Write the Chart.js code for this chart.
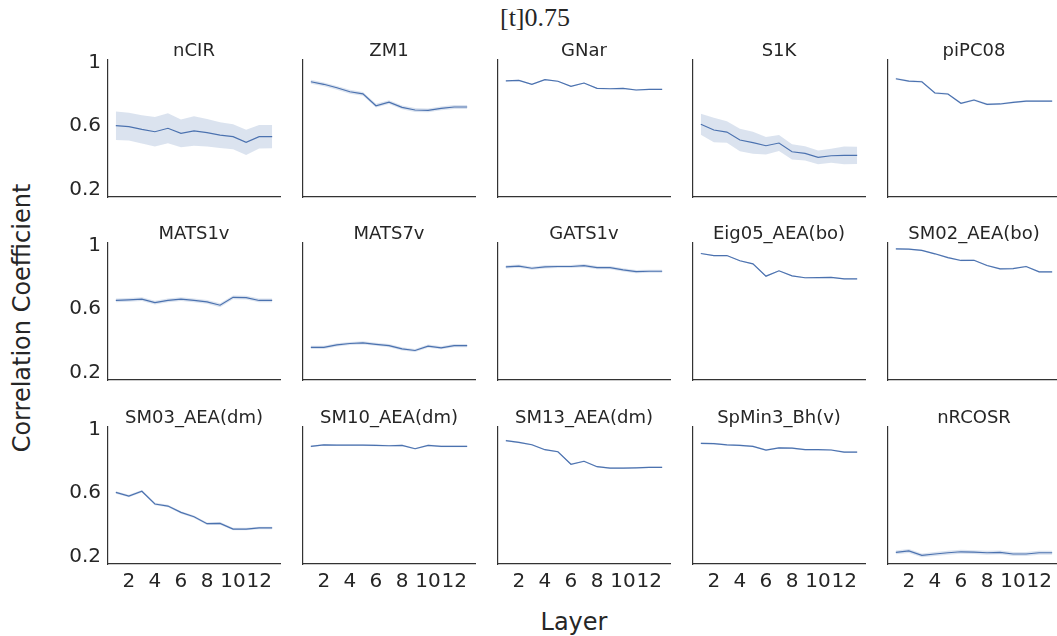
<!DOCTYPE html>
<html>
<head>
<meta charset="utf-8">
<script src="https://cdn.jsdelivr.net/npm/chart.js@4/dist/chart.umd.min.js"></script>
<style>
  html, body { margin: 0; padding: 0; background: #fff; }
  body { width: 1057px; height: 636px; position: relative; overflow: hidden; font-family: "DejaVu Sans", sans-serif; color: #262626; }
  canvas { position: absolute; }
  .label { position: absolute; white-space: nowrap; }
  #suptitle { font-family: "Liberation Serif", serif; font-size: 26px; left: 535px; top: 18px; transform: translate(-50%, -50%); }
  #xlabel { font-size: 24px; left: 574px; top: 622px; transform: translate(-50%, -50%); }
  #ylabel { font-size: 24px; left: 22px; top: 318px; transform: translate(-50%, -50%) rotate(-90deg); }
</style>
</head>
<body>
<div class="label" id="suptitle">[t]0.75</div>
<div class="label" id="ylabel">Correlation Coefficient</div>
<div class="label" id="xlabel">Layer</div>

<script>
// layers and tick labels
const layers = [1, 2, 3, 4, 5, 6, 7, 8, 9, 10, 11, 12, 13];
const xTicks = [2, 4, 6, 8, 10, 12];
const xTickLabels = ["2", "4", "6", "8", "10", "12"];
const yTicks = [0.2, 0.6, 1];
const yTickLabels = ["0.2", "0.6", "1"];

const titles = ["nCIR", "ZM1", "GNar", "S1K", "piPC08",
                "MATS1v", "MATS7v", "GATS1v", "Eig05_AEA(bo)", "SM02_AEA(bo)",
                "SM03_AEA(dm)", "SM10_AEA(dm)", "SM13_AEA(dm)", "SpMin3_Bh(v)", "nRCOSR"];

// mean correlation per layer, and half width of the confidence band
const nCIR     = [0.602, 0.596, 0.579, 0.564, 0.586, 0.554, 0.569, 0.558, 0.543, 0.533, 0.497, 0.533, 0.533];
const nCIR_ci  = [0.090, 0.087, 0.089, 0.093, 0.095, 0.087, 0.093, 0.087, 0.081, 0.079, 0.079, 0.074, 0.073];
const ZM1      = [0.879, 0.863, 0.841, 0.816, 0.803, 0.728, 0.751, 0.718, 0.701, 0.699, 0.711, 0.720, 0.720];
const ZM1_ci   = [0.012, 0.012, 0.012, 0.012, 0.012, 0.012, 0.012, 0.012, 0.012, 0.012, 0.012, 0.012, 0.012];
const GNar     = [0.885, 0.888, 0.863, 0.892, 0.882, 0.850, 0.871, 0.837, 0.835, 0.837, 0.827, 0.831, 0.831];
const GNar_ci  = [0.004, 0.004, 0.004, 0.004, 0.004, 0.004, 0.004, 0.004, 0.004, 0.004, 0.004, 0.004, 0.004];
const S1K      = [0.611, 0.575, 0.562, 0.512, 0.495, 0.476, 0.493, 0.438, 0.428, 0.403, 0.413, 0.415, 0.415];
const S1K_ci   = [0.066, 0.077, 0.068, 0.071, 0.069, 0.055, 0.050, 0.048, 0.045, 0.043, 0.044, 0.056, 0.054];
const piPC08   = [0.898, 0.883, 0.879, 0.808, 0.802, 0.743, 0.764, 0.737, 0.739, 0.749, 0.757, 0.757, 0.757];
const piPC08_ci = [0.006, 0.006, 0.006, 0.006, 0.006, 0.006, 0.006, 0.006, 0.006, 0.006, 0.006, 0.006, 0.006];
const MATS1v   = [0.654, 0.658, 0.662, 0.641, 0.654, 0.662, 0.654, 0.645, 0.624, 0.674, 0.672, 0.654, 0.654];
const MATS1v_ci = [0.012, 0.012, 0.012, 0.012, 0.012, 0.012, 0.012, 0.012, 0.012, 0.012, 0.012, 0.012, 0.012];
const MATS7v   = [0.359, 0.359, 0.374, 0.383, 0.387, 0.378, 0.370, 0.349, 0.339, 0.366, 0.356, 0.370, 0.370];
const MATS7v_ci = [0.010, 0.010, 0.010, 0.010, 0.010, 0.010, 0.010, 0.010, 0.010, 0.010, 0.010, 0.010, 0.010];
const GATS1v   = [0.866, 0.870, 0.857, 0.866, 0.868, 0.868, 0.874, 0.861, 0.861, 0.847, 0.836, 0.838, 0.838];
const GATS1v_ci = [0.010, 0.010, 0.010, 0.010, 0.010, 0.010, 0.010, 0.010, 0.010, 0.010, 0.010, 0.010, 0.010];
const Eig05    = [0.950, 0.937, 0.937, 0.904, 0.885, 0.807, 0.841, 0.809, 0.797, 0.798, 0.800, 0.790, 0.790];
const Eig05_ci = [0.004, 0.004, 0.004, 0.004, 0.004, 0.004, 0.004, 0.004, 0.004, 0.004, 0.004, 0.004, 0.004];
const SM02     = [0.979, 0.977, 0.969, 0.948, 0.924, 0.906, 0.907, 0.874, 0.853, 0.855, 0.868, 0.834, 0.834];
const SM02_ci  = [0.005, 0.005, 0.005, 0.005, 0.005, 0.005, 0.005, 0.005, 0.005, 0.005, 0.005, 0.005, 0.005];
const SM03     = [0.604, 0.581, 0.611, 0.531, 0.518, 0.478, 0.451, 0.407, 0.409, 0.373, 0.373, 0.380, 0.380];
const SM03_ci  = [0.008, 0.008, 0.008, 0.008, 0.008, 0.008, 0.008, 0.008, 0.008, 0.008, 0.008, 0.008, 0.008];
const SM10     = [0.894, 0.904, 0.902, 0.902, 0.902, 0.900, 0.898, 0.900, 0.879, 0.900, 0.894, 0.894, 0.894];
const SM10_ci  = [0.005, 0.005, 0.005, 0.005, 0.005, 0.005, 0.005, 0.005, 0.005, 0.005, 0.005, 0.005, 0.005];
const SM13     = [0.930, 0.919, 0.904, 0.873, 0.860, 0.781, 0.800, 0.766, 0.757, 0.757, 0.759, 0.762, 0.762];
const SM13_ci  = [0.005, 0.005, 0.005, 0.005, 0.005, 0.005, 0.005, 0.005, 0.005, 0.005, 0.005, 0.005, 0.005];
const SpMin3   = [0.913, 0.911, 0.904, 0.900, 0.894, 0.871, 0.885, 0.883, 0.873, 0.873, 0.871, 0.858, 0.858];
const SpMin3_ci = [0.005, 0.005, 0.005, 0.005, 0.005, 0.005, 0.005, 0.005, 0.005, 0.005, 0.005, 0.005, 0.005];
const nRCOSR   = [0.226, 0.235, 0.207, 0.216, 0.224, 0.230, 0.228, 0.224, 0.226, 0.216, 0.216, 0.224, 0.224];
const nRCOSR_ci = [0.012, 0.012, 0.012, 0.012, 0.012, 0.012, 0.012, 0.012, 0.012, 0.012, 0.012, 0.012, 0.012];

const means = [nCIR, ZM1, GNar, S1K, piPC08, MATS1v, MATS7v, GATS1v, Eig05, SM02, SM03, SM10, SM13, SpMin3, nRCOSR];
const bands = [nCIR_ci, ZM1_ci, GNar_ci, S1K_ci, piPC08_ci, MATS1v_ci, MATS7v_ci, GATS1v_ci, Eig05_ci, SM02_ci,
               SM03_ci, SM10_ci, SM13_ci, SpMin3_ci, nRCOSR_ci];

// grid geometry (plot area of each panel)
const COL_LEFT = [108, 303, 498, 693, 888];
const ROW_TOP = [60, 243, 427];
const PLOT_W = 172;
const PLOT_H = 137;
// space kept for the y tick labels (left), titles (top) and x tick labels (bottom)
const Y_AXIS_W = 60;
const X_AXIS_H = 40;
const TOP_PAD = 40;
const RIGHT_PAD = 12;

const LINE = "#4c72b0";
const BAND = "rgba(76, 114, 176, 0.2)";
const TEXT = "#262626";
const AXIS = "#333333";

const panelTitle = {
    id: "panelTitle",
    afterDraw(chart, args, opts) {
        const { ctx, chartArea } = chart;
        ctx.save();
        ctx.font = '18px "DejaVu Sans"';
        ctx.fillStyle = TEXT;
        ctx.textAlign = "center";
        ctx.textBaseline = "alphabetic";
        ctx.fillText(opts.text, (chartArea.left + chartArea.right) / 2, chartArea.top - 4);
        ctx.restore();
    },
};

function points(values) {
    return layers.map((l, i) => ({ x: l, y: values[i] }));
}

function makePanel(index) {
    const row = Math.floor(index / 5);
    const col = index % 5;
    const mean = means[index];
    const ci = bands[index];

    const canvas = document.createElement("canvas");
    canvas.width = Y_AXIS_W + PLOT_W + RIGHT_PAD;
    canvas.height = TOP_PAD + PLOT_H + X_AXIS_H;
    canvas.style.left = (COL_LEFT[col] - Y_AXIS_W) + "px";
    canvas.style.top = (ROW_TOP[row] - TOP_PAD) + "px";
    document.body.appendChild(canvas);

    const showY = col === 0;
    const showX = row === 2;

    new Chart(canvas, {
        type: "line",
        data: {
            datasets: [
                {
                    data: points(mean.map((m, i) => m - ci[i])),
                    borderWidth: 0,
                    pointRadius: 0,
                    fill: false,
                },
                {
                    data: points(mean.map((m, i) => m + ci[i])),
                    borderWidth: 0,
                    pointRadius: 0,
                    backgroundColor: BAND,
                    fill: "-1",
                },
                {
                    data: points(mean),
                    borderColor: LINE,
                    borderWidth: 1.2,
                    pointRadius: 0,
                    fill: false,
                    tension: 0,
                },
            ],
        },
        options: {
            responsive: false,
            animation: false,
            events: [],
            layout: { padding: { left: 0, top: TOP_PAD, right: RIGHT_PAD, bottom: 0 } },
            plugins: {
                legend: { display: false },
                tooltip: { enabled: false },
                panelTitle: { text: titles[index] },
            },
            scales: {
                x: {
                    type: "linear",
                    min: 0.4,
                    max: 13.6,
                    grid: { display: false, drawTicks: false, tickLength: 0 },
                    border: { display: true, color: AXIS, width: 1.2 },
                    afterBuildTicks: (axis) => { axis.ticks = xTicks.map((v) => ({ value: v })); },
                    afterFit: (axis) => { axis.height = X_AXIS_H; },
                    ticks: {
                        display: showX,
                        autoSkip: false,
                        maxRotation: 0,
                        padding: 6,
                        color: TEXT,
                        font: { family: "DejaVu Sans", size: 20 },
                        callback: (v, i) => xTickLabels[i],
                    },
                },
                y: {
                    min: 0.153,
                    max: 1.016,
                    grid: { display: false, drawTicks: false, tickLength: 0 },
                    border: { display: true, color: AXIS, width: 1.2 },
                    afterBuildTicks: (axis) => { axis.ticks = yTicks.map((v) => ({ value: v })); },
                    afterFit: (axis) => { axis.width = Y_AXIS_W; },
                    ticks: {
                        display: showY,
                        autoSkip: false,
                        padding: 7,
                        color: TEXT,
                        font: { family: "DejaVu Sans", size: 20 },
                        callback: (v, i) => yTickLabels[i],
                    },
                },
            },
        },
        plugins: [panelTitle],
    });
}

for (let i = 0; i < titles.length; i++) {
    makePanel(i);
}
</script>
</body>
</html>
